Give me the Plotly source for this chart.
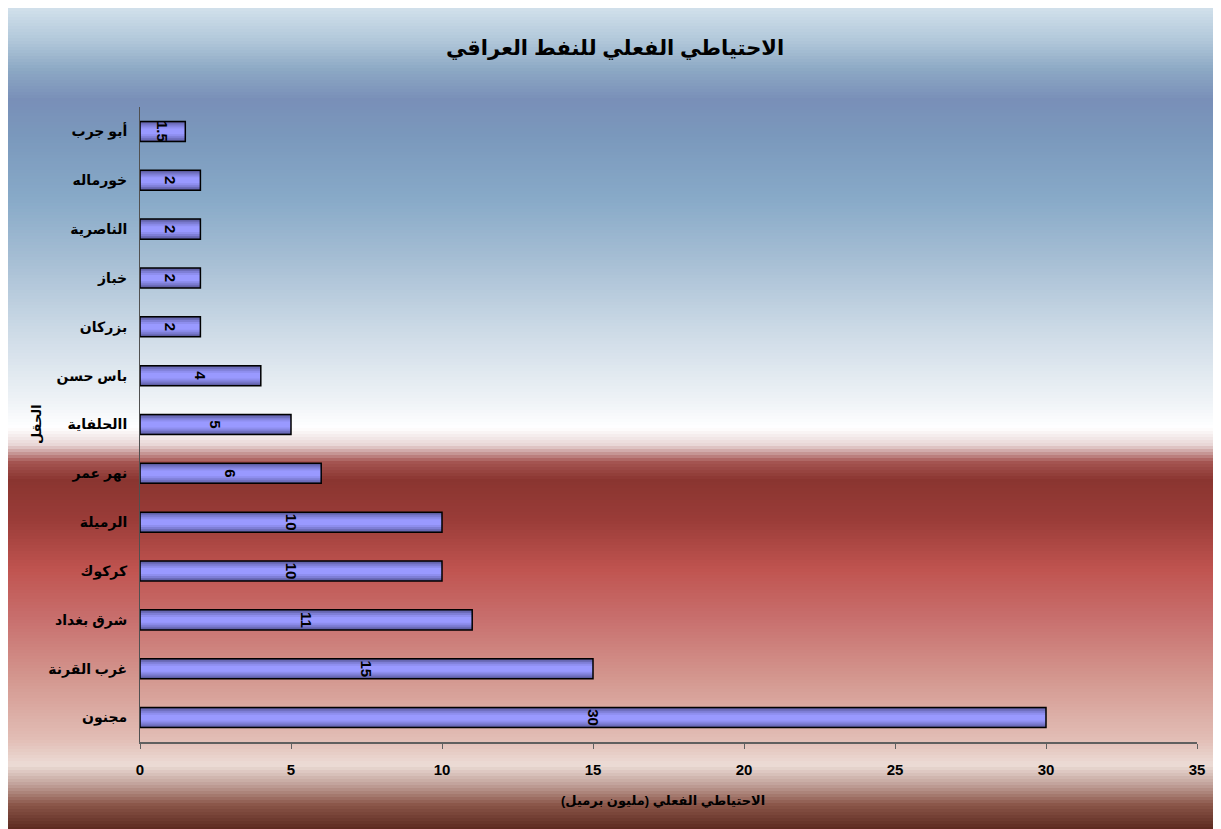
import plotly.graph_objects as go

# ---- data ----
fields = ["مجنون", "غرب القرنة", "شرق بغداد", "كركوك", "الرميلة", "نهر عمر",
          "االحلفاية", "باس حسن", "بزركان", "خباز", "الناصرية", "خورماله", "أبو جرب"]
reserves = [30, 15, 11, 10, 10, 6, 5, 4, 2, 2, 2, 2, 1.5]
x_ticks = [0, 5, 10, 15, 20, 25, 30, 35]

title_text = "الاحتياطي الفعلي للنفط العراقي"
x_title = "الاحتياطي الفعلي (مليون برميل)"
y_title = "الحقل"

# page has 8px body margin; figure occupies page x 8..1221, y 8..829
OFF = 8
W, H = 1221 - OFF, 829 - OFF
L, R, T, B = 140 - OFF, 1221 - 1197, 107 - OFF, 829 - 742
PW, PH = W - L - R, H - T - B

FONT = "Liberation Sans, DejaVu Sans, Arial, sans-serif"

# background gradient stops (page pixel y, colour)
stops = [
    (3, (214, 228, 238)), (40, (178, 200, 218)), (70, (140, 168, 196)),
    (100, (121, 143, 184)), (135, (122, 152, 188)), (200, (136, 170, 200)),
    (260, (166, 190, 212)), (330, (204, 218, 230)), (400, (238, 242, 246)),
    (428, (255, 255, 255)), (445, (232, 214, 214)), (462, (165, 85, 82)),
    (480, (138, 53, 48)), (520, (154, 60, 56)), (570, (192, 84, 80)),
    (620, (200, 112, 110)), (680, (212, 152, 144)), (740, (226, 190, 182)),
    (765, (236, 220, 214)), (785, (192, 160, 152)), (805, (138, 85, 72)),
    (829, (92, 42, 32)),
]


def col_at(py):
    for (y0, c0), (y1, c1) in zip(stops, stops[1:]):
        if y0 <= py <= y1:
            t = (py - y0) / (y1 - y0) if y1 > y0 else 0
            return tuple(int(round(a + (b - a) * t)) for a, b in zip(c0, c1))
    return stops[-1][1] if py > stops[-1][0] else stops[0][1]


def px_to_paper_x(px):  # page px
    return (px - OFF - L) / PW


def px_to_paper_y(py):  # page px
    return (H - B - (py - OFF)) / PH


shapes = []
step = 3
py = OFF
while py < 829:
    c = col_at(py + step / 2)
    shapes.append(dict(
        type="rect", xref="paper", yref="paper", layer="below",
        x0=px_to_paper_x(OFF - 2), x1=px_to_paper_x(1221 + 2),
        y0=px_to_paper_y(min(py + step + 1, 831)), y1=px_to_paper_y(py - (2 if py == OFF else 0)),
        fillcolor="rgb(%d,%d,%d)" % c, line=dict(width=0)))
    py += step

fig = go.Figure()
# layered bars to imitate the shaded bar fill
layers = [(0.41, "#5a5a9c"), (0.35, "#6c6cba"), (0.28, "#7e7ed6"), (0.2, "#8e8eee"), (0.12, "#9999FF")]
for wdt, colr in layers:
    fig.add_trace(go.Bar(
        x=reserves, y=fields, orientation="h", width=wdt,
        marker=dict(color=colr, line=dict(width=0)), hoverinfo="skip"))
# outline + value labels
fig.add_trace(go.Bar(
    x=reserves, y=fields, orientation="h", width=0.41,
    marker=dict(color="rgba(0,0,0,0)", line=dict(color="black", width=1.5)),
    text=[str(v) for v in reserves], textposition="inside",
    insidetextanchor="middle", textangle=90, constraintext="none",
    textfont=dict(family=FONT, size=15, color="black", weight="bold"),
    hoverinfo="x+y",
))

fig.update_layout(
    width=W, height=H,
    margin=dict(l=L, r=R, t=T, b=B, autoexpand=False),
    paper_bgcolor="white", plot_bgcolor="rgba(0,0,0,0)",
    barmode="overlay", showlegend=False, shapes=shapes,
    font=dict(family=FONT, color="black"),
    title=dict(text="<b>" + title_text + "</b>", x=(615 - OFF) / W, xanchor="center",
               y=1 - (48 - OFF) / H, yanchor="middle",
               font=dict(family=FONT, size=21, color="black")),
    xaxis=dict(range=[0, 35], tickvals=x_ticks, ticktext=[str(v) for v in x_ticks],
               showgrid=False, zeroline=False, showline=True,
               linecolor="#606060", linewidth=2, ticks="outside", ticklen=5,
               tickcolor="#606060", ticklabelstandoff=8,
               tickfont=dict(family=FONT, size=15, color="black", weight="bold")),
    yaxis=dict(categoryorder="array", categoryarray=fields, range=[-0.5, 12.5],
               showgrid=False, zeroline=False, showline=True,
               linecolor="#505050", linewidth=1, ticks="", ticklabelstandoff=9,
               tickfont=dict(family=FONT, size=14, color="black", weight="bold")),
    annotations=[
        dict(text="<b>" + x_title + "</b>", xref="paper", yref="paper",
             x=px_to_paper_x(663), y=px_to_paper_y(800), showarrow=False,
             xanchor="center", yanchor="middle",
             font=dict(family=FONT, size=13, color="black")),
        dict(text="<b>" + y_title + "</b>", xref="paper", yref="paper",
             x=px_to_paper_x(36), y=px_to_paper_y(424), showarrow=False,
             textangle=-90, xanchor="center", yanchor="middle",
             font=dict(family=FONT, size=13, color="black")),
    ],
)

fig.write_html("out.html")
